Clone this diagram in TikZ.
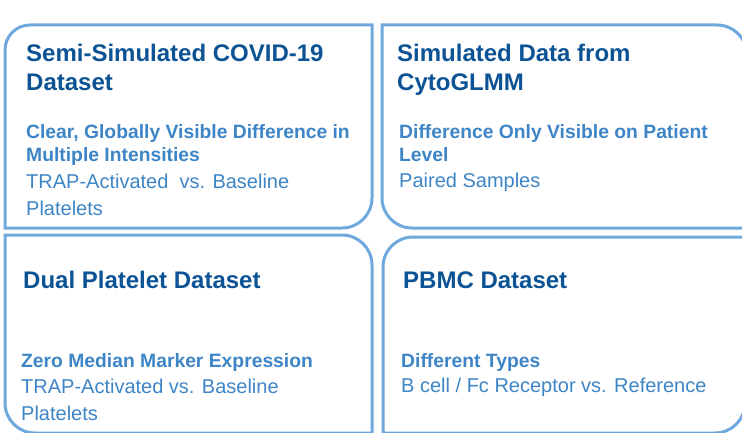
\documentclass[tikz,border=0pt]{standalone}
\usepackage{fontspec}
\setmainfont{Liberation Sans}
\usepackage{xcolor}
\usetikzlibrary{positioning}

\definecolor{headblue}{HTML}{0B5394}
\definecolor{textblue}{HTML}{3D85C6}
\definecolor{edgeblue}{HTML}{6FA8DC}

\begin{document}
\begin{tikzpicture}[
    x=1pt, y=1pt,
    panel/.style={draw=edgeblue, line width=3pt},
    headline/.style={anchor=base west, inner sep=0pt, align=left, text=headblue, font=\fontsize{24}{29}\selectfont\bfseries},
    tagline/.style={anchor=base west, inner sep=0pt, align=left, text=textblue, font=\fontsize{19.3}{23}\selectfont\bfseries},
    detail/.style={anchor=base west, inner sep=0pt, align=left, text=textblue, font=\fontsize{20}{27}\selectfont},
  ]
  \useasboundingbox (0,0) rectangle (742,432);
  \clip (0,0) rectangle (742,432);

  % ---- Panel 1: top left ----
  \draw[panel] (5,204) -- (5,382) arc[start angle=180, end angle=90, radius=25]
    -- (372,407) -- (372,234) arc[start angle=0, end angle=-90, radius=30] -- cycle;
  \node[headline] (covidhead) at (26,341) {Semi-Simulated COVID-19\\Dataset};
  \node[tagline] (covidtag) at (26,271) {Clear, Globally Visible Difference in\\Multiple Intensities};
  \node[detail] (coviddet) at (26,217) {TRAP-Activated\ \ vs. Baseline\\Platelets};

  % ---- Panel 2: top right ----
  \draw[panel] (382,407) -- (717,407) arc[start angle=90, end angle=0, radius=30]
    -- (747,204) -- (412,204) arc[start angle=270, end angle=180, radius=30] -- cycle;
  \node[headline] (glmmhead) at (397,341) {Simulated Data from\\CytoGLMM};
  \node[tagline] (glmmtag) at (399,271) {Difference Only Visible on Patient\\Level};
  \node[detail] (glmmdet) at (399,244) {Paired Samples};

  % ---- Panel 3: bottom left ----
  \draw[panel] (5,197) -- (342,197) arc[start angle=90, end angle=0, radius=30]
    -- (372,-1) -- (35,-1) arc[start angle=270, end angle=180, radius=30] -- cycle;
  \node[headline] (dualhead) at (23,144) {Dual Platelet Dataset};
  \node[tagline] (dualtag) at (21,65) {Zero Median Marker Expression};
  \node[detail] (dualdet) at (21,12) {TRAP-Activated vs. Baseline\\Platelets};

  % ---- Panel 4: bottom right ----
  \draw[panel] (383,-1) -- (383,165) arc[start angle=180, end angle=90, radius=30]
    -- (745,195) -- (745,29) arc[start angle=0, end angle=-90, radius=30] -- cycle;
  \node[headline] (pbmchead) at (403,144) {PBMC Dataset};
  \node[tagline] (pbmctag) at (401,65) {Different Types};
  \node[detail] (pbmcdet) at (401,40) {B cell / Fc Receptor vs. Reference};

\end{tikzpicture}
\end{document}
